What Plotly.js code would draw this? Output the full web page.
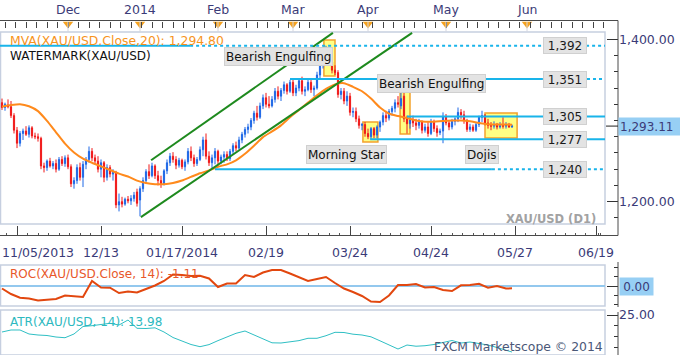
<!DOCTYPE html>
<html><head><meta charset="utf-8">
<script src="https://cdn.plot.ly/plotly-3.0.1.min.js"></script>
<style>html,body{margin:0;padding:0;background:#fff}#chart{width:680px;height:355px}</style>
</head><body><div id="chart"></div>
<script>
// ---------- data ----------
const opens=[1322,1316,1319,1317,1306,1288,1272,1284,1287,1283,1291,1281,1280,1278,1244,1242,1250,1244,1247,1240,1252,1247,1254,1243,1222,1226,1242,1230,1246,1252,1262,1254,1250,1240,1248,1230,1242,1234,1236,1196,1200,1197,1203,1201,1204,1212,1202,1216,1226,1237,1232,1244,1232,1226,1222,1238,1248,1256,1252,1245,1251,1243,1249,1262,1254,1247,1252,1264,1276,1256,1248,1254,1262,1250,1255,1258,1253,1262,1269,1266,1276,1283,1289,1292,1300,1309,1304,1318,1328,1320,1318,1326,1336,1330,1337,1344,1336,1347,1334,1340,1349,1336,1338,1347,1338,1340,1356,1370,1374,1380,1372,1362,1359,1332,1336,1324,1330,1310,1311,1302,1294,1295,1284,1280,1290,1282,1292,1298,1306,1303,1311,1315,1322,1318,1330,1302,1296,1301,1297,1294,1299,1288,1292,1284,1298,1290,1285,1287,1305,1297,1292,1299,1302,1310,1307,1300,1289,1292,1288,1295,1304,1306,1297,1294,1293,1295,1292,1294,1293,1295,1292];
const highs=[1327,1322,1326,1324,1309,1292,1287,1290,1293,1294,1293,1285,1284,1280,1248,1252,1254,1250,1252,1255,1256,1257,1258,1246,1230,1246,1248,1250,1255,1268,1266,1258,1256,1252,1250,1246,1245,1240,1238,1210,1206,1205,1207,1208,1212,1216,1219,1230,1240,1246,1248,1246,1238,1232,1240,1252,1260,1261,1256,1254,1253,1252,1266,1268,1258,1255,1268,1280,1284,1262,1258,1266,1264,1258,1262,1262,1265,1272,1274,1280,1286,1292,1296,1303,1312,1318,1322,1332,1334,1330,1330,1340,1342,1340,1348,1346,1350,1352,1344,1352,1354,1342,1350,1350,1343,1360,1374,1378,1392,1390,1380,1368,1362,1340,1340,1336,1334,1316,1316,1306,1297,1298,1290,1292,1292,1294,1300,1310,1312,1314,1318,1326,1330,1336,1334,1306,1304,1306,1302,1302,1300,1296,1298,1302,1301,1294,1290,1310,1308,1300,1302,1304,1316,1314,1312,1302,1296,1295,1298,1306,1312,1308,1302,1298,1299,1297,1298,1304,1298,1297,1295];
const lows=[1313,1312,1315,1303,1284,1266,1268,1276,1281,1279,1278,1277,1274,1240,1236,1238,1242,1240,1236,1238,1244,1243,1240,1218,1216,1222,1226,1218,1240,1248,1250,1246,1236,1230,1224,1226,1230,1226,1192,1188,1193,1195,1198,1196,1200,1194,1182,1212,1222,1228,1230,1228,1220,1217,1220,1234,1244,1248,1240,1242,1240,1238,1246,1250,1243,1244,1250,1256,1252,1244,1240,1246,1244,1246,1248,1250,1250,1258,1262,1264,1272,1279,1284,1288,1296,1300,1302,1314,1316,1315,1316,1322,1326,1324,1333,1332,1334,1330,1330,1336,1332,1330,1336,1334,1330,1338,1352,1364,1370,1368,1358,1356,1328,1326,1320,1318,1306,1304,1298,1290,1288,1280,1277,1277,1278,1278,1286,1294,1298,1300,1306,1310,1316,1314,1298,1284,1290,1292,1288,1290,1284,1285,1280,1282,1286,1280,1282,1272,1294,1288,1289,1294,1298,1302,1296,1286,1286,1286,1286,1292,1298,1294,1290,1288,1290,1289,1290,1290,1290,1291,1291];
const closes=[1316,1320,1317,1306,1288,1272,1284,1287,1283,1291,1281,1280,1278,1244,1242,1250,1244,1247,1240,1252,1247,1254,1243,1222,1226,1242,1230,1246,1252,1262,1254,1250,1240,1248,1230,1242,1234,1236,1196,1200,1197,1203,1201,1204,1208,1198,1216,1226,1237,1232,1244,1232,1226,1222,1238,1248,1256,1252,1245,1251,1243,1249,1262,1254,1247,1252,1264,1276,1256,1248,1254,1262,1250,1255,1258,1253,1262,1269,1266,1276,1283,1289,1292,1300,1309,1304,1318,1328,1320,1318,1326,1336,1330,1337,1344,1336,1347,1334,1340,1349,1336,1338,1347,1338,1340,1356,1370,1374,1380,1372,1362,1359,1332,1336,1324,1330,1310,1311,1302,1294,1295,1284,1280,1290,1282,1292,1298,1306,1303,1311,1315,1322,1320,1327,1302,1296,1301,1297,1294,1299,1288,1292,1284,1298,1290,1285,1287,1305,1297,1292,1299,1302,1310,1307,1300,1289,1292,1288,1295,1304,1306,1297,1294,1293,1295,1292,1294,1293,1295,1292,1293.11];
// MVA(20), ROC(14), ATR(14) read every 3rd bar (+ last bar)
const maVals=[1317,1319,1320,1317.5,1311.5,1299.5,1285.5,1271.5,1260.5,1253,1248,1243.5,1239,1234.5,1231,1226,1223,1221.5,1221.5,1223,1226,1230.5,1235,1238.5,1243,1246,1251,1259,1269,1279.5,1286.5,1294,1304,1313,1322,1331,1339,1344.5,1346,1341.5,1336,1327,1316,1308.5,1305.5,1303,1300,1298.5,1298.5,1299.5,1300,1300,1299,1297,1295.5,1295,1295,1294.8];
const rocVals=[-1.19,-3.81,-5.57,-5.95,-6.9,-6.67,-6.19,-4.52,-4.76,-5.24,2.38,-0.71,-0.81,-3.33,-2.62,-3.1,-1.43,0.24,2.38,5.48,5.24,4.76,4.9,3.57,-0.48,1.19,1.19,5.24,4.29,6.43,7.62,7.62,5.95,4.29,2.38,3.33,4.29,1.43,-1.19,-2.86,-4.76,-7.38,-7.62,-4.52,0.48,0.48,0.95,-0.71,-0.48,-1.9,-2.38,0.33,0.48,1.05,-0.81,0,-1.19,-1.11];
const atrVals=[19.94,20.54,20.54,19.35,19.05,18.9,18.45,18.24,19.35,21.58,21.82,22.08,22.53,22.02,23.51,21.04,20.98,21.19,19.94,18.3,17.32,16.22,15.57,16.19,17.38,18.54,19.55,20.24,19.05,18.07,16.73,16.67,17.02,17.38,18.07,18.07,18.84,19.85,19.79,19.29,19.05,18.51,17.32,16.07,14.88,16.07,15.71,15.86,16.22,16.82,17.41,16.67,16.96,16.52,16.07,15.33,14.43,13.98];
const levels=[1392,1351,1305,1277,1240];
const chanUpX=[49.7,110.3], chanUpY=[1251,1408];
const chanLoX=[46.3,136.7], chanLoY=[1181,1408];
const patNames=['Bearish Engulfing','Morning Star','Bearish Engulfing','Dojis'];
const patX0=[107.3,120.3,132.7,161], patX1=[111,125.3,136,171.7];
const patLo=[1354.8,1273.5,1283.4,1278.4], patHi=[1399.1,1298.2,1336.3,1309.2];
const monthNames=['Dec','2014','Feb','Mar','Apr','May','Jun'];
const monthIdx=[22,46,72,97,122,148,175];
const dateLabels=['11/05/2013','12/13','01/17/2014','02/19','03/24','04/24','05/27','06/19'];
const dateTickIdx=[5,33,60,88,116,143,171,198];

// ---------- helpers ----------
const W=680,H=355;
const px=x=>x/W, py=y=>1-y/H;
const navy='#3B3B78';
const xRange=[-2/3,201];
const barX=closes.map((_,i)=>i);
const sIdx=[]; for(let k=0;k<57;k++) sIdx.push(3*k); sIdx.push(closes.length-1);
const f2=v=>v.toLocaleString('en-US',{minimumFractionDigits:2,maximumFractionDigits:2});

// minor ticks for rulers
const minorBottom=[];
for(let j=0;j<dateTickIdx.length-1;j++){const a=dateTickIdx[j],b=dateTickIdx[j+1];for(let s=1;s<8;s++)minorBottom.push(a+(b-a)*s/8);}
for(let s=1;s<3;s++){minorBottom.push(dateTickIdx[0]-3.5*s);minorBottom.push(dateTickIdx[dateTickIdx.length-1]+0.7*s);}

const blue='#1E68E6', red='#F01818', cyan='#19B4EA';
const traces=[
 {type:'candlestick',x:barX,open:opens,high:highs,low:lows,close:closes,xaxis:'x',yaxis:'y',
  increasing:{line:{color:blue,width:1},fillcolor:blue},decreasing:{line:{color:red,width:1},fillcolor:red},
  whiskerwidth:0,hoverinfo:'skip'},
 {type:'scatter',mode:'lines',x:sIdx,y:maVals,xaxis:'x',yaxis:'y',line:{color:'#FF8A1C',width:2,shape:'spline',smoothing:0.6},hoverinfo:'skip'},
 {type:'scatter',mode:'lines',x:chanUpX,y:chanUpY,xaxis:'x',yaxis:'y',line:{color:'#1E8A1E',width:2},hoverinfo:'skip'},
 {type:'scatter',mode:'lines',x:chanLoX,y:chanLoY,xaxis:'x',yaxis:'y',line:{color:'#1E8A1E',width:2},hoverinfo:'skip'},
 {type:'scatter',mode:'lines',x:sIdx,y:rocVals,xaxis:'x',yaxis:'y2',line:{color:'#E2470F',width:2},hoverinfo:'skip'},
 {type:'scatter',mode:'lines',x:sIdx,y:atrVals,xaxis:'x',yaxis:'y3',line:{color:'#2FBFC4',width:1},hoverinfo:'skip'},
 {type:'scatter',mode:'markers',x:monthIdx,y:monthIdx.map(()=>0.25),xaxis:'x2',yaxis:'y4',
  marker:{symbol:'triangle-down',size:9,color:'#F5A21F'},hoverinfo:'skip'}
];

const shapes=[];
const line=(x0,y0,x1,y1,color,width,dash)=>({type:'line',xref:'paper',yref:'paper',x0:px(x0),y0:py(y0),x1:px(x1),y1:py(y1),line:{color,width,dash:dash||'solid'}});
// panel frames
[[32,224],[265,306],[310,355]].forEach(([t,b])=>shapes.push({type:'rect',xref:'paper',yref:'paper',x0:px(0.5),x1:px(605),y0:py(b),y1:py(t),line:{color:'#C6CFE0',width:1.5},layer:'below'}));
// rulers / axis lines
shapes.push(line(0,20.5,618,20.5,'#4a4a4a',1));
shapes.push(line(618,20.5,618,235.5,'#4a4a4a',1));
shapes.push(line(0,235.5,618,235.5,'#4a4a4a',1));
shapes.push(line(618,262,618,307,'#4a4a4a',1));
shapes.push(line(618,312,618,355,'#4a4a4a',1));
monthIdx.forEach(m=>shapes.push({type:'line',xref:'x',yref:'paper',x0:m,x1:m,y0:py(32),y1:py(22),line:{color:'#D4D6E0',width:1}}));
// pattern boxes
patX0.forEach((x0,i)=>shapes.push({type:'rect',xref:'x',yref:'y',x0,x1:patX1[i],y0:patLo[i],y1:patHi[i],
  fillcolor:'rgba(255,255,110,0.85)',line:{color:'#F3A22C',width:1.5},layer:'below'}));
// support / resistance lines
const segs=[
 [[xRange[0],62.7,'solid'],[62.7,xRange[1],'dot']],
 [[96,180.3,'solid'],[195,xRange[1],'dot']],
 [[135,xRange[1],'solid']],
 [[122.7,xRange[1],'solid']],
 [[71,163.3,'solid'],[163.3,xRange[1],'dot']]
];
levels.forEach((lv,i)=>segs[i].forEach(([a,b,d])=>shapes.push({type:'line',xref:'x',yref:'y',x0:a,x1:b,y0:lv,y1:lv,line:{color:cyan,width:2,dash:d}})));
// current price tick
const last=closes[closes.length-1];
shapes.push({type:'line',xref:'paper',yref:'y',x0:px(606),x1:px(618),y0:last,y1:last,line:{color:'#222',width:1}});

const ann=[];
const txt=(x,y,text,o)=>Object.assign({xref:'paper',yref:'paper',x:px(x),y:py(y),text,showarrow:false,xanchor:'left',yanchor:'middle',font:{family:'DejaVu Sans',size:12,color:'#111'}},o||{});
ann.push(txt(8,41,'MVA(XAU/USD.Close,20): '+f2(maVals[maVals.length-1]),{font:{family:'DejaVu Sans',size:12.4,color:'#F7941D'}}));
ann.push(txt(8,56,'WATERMARK(XAU/USD)'));
ann.push(txt(8,274,'ROC(XAU/USD.Close, 14): '+f2(rocVals[rocVals.length-1]),{font:{family:'DejaVu Sans',size:12,color:'#E8582A'}}));
ann.push(txt(8,322,'ATR(XAU/USD, 14): '+f2(atrVals[atrVals.length-1]),{font:{family:'DejaVu Sans',size:12,color:'#2DB9C0'}}));
ann.push(txt(598,219,'<b>XAU/USD (D1)</b>',{xanchor:'right',font:{family:'DejaVu Sans',size:11.5,color:'#A2A2A2'}}));
ann.push(txt(605,346,'FXCM Marketscope © 2014',{xanchor:'right',font:{family:'DejaVu Sans',size:12.4,color:'#4B5878'}}));
// level labels
levels.forEach(lv=>ann.push({xref:'paper',yref:'y',x:px(565),y:lv,text:lv.toLocaleString('en-US'),showarrow:false,
  xanchor:'center',yanchor:'middle',width:42,height:15,bgcolor:'#E3E3E3',bordercolor:'#D0D0D0',borderwidth:1,borderpad:0,
  font:{family:'DejaVu Sans',size:12,color:'#1a1a1a'}}));
// pattern labels
const patLab=[[278,56],[346,154],[431,83],[482,154]];
patNames.forEach((n,i)=>ann.push(txt(patLab[i][0],patLab[i][1],n,{xanchor:'center',bgcolor:'#E3E3E3',bordercolor:'#D0D0D0',borderwidth:1,borderpad:1,height:15})));
// current price & roc zero boxes
ann.push({xref:'paper',yref:'y',x:px(617.5),y:last,text:f2(last),showarrow:false,xanchor:'left',yanchor:'middle',align:'left',width:60,height:15,borderpad:1,
  bgcolor:'#97CFF4',font:{family:'DejaVu Sans',size:12,color:navy}});
ann.push({xref:'paper',yref:'y2',x:px(618.5),y:0,text:'0.00',showarrow:false,xanchor:'left',yanchor:'middle',width:31,height:15,borderpad:1,
  bgcolor:'#97CFF4',font:{family:'DejaVu Sans',size:12,color:navy}});
// month labels (top) and date labels (bottom)
monthIdx.forEach((m,i)=>ann.push({xref:'x',yref:'paper',x:m,y:py(10),text:monthNames[i],showarrow:false,xanchor:'center',yanchor:'middle',font:{family:'DejaVu Sans',size:12.5,color:navy}}));
dateTickIdx.forEach((d,i)=>ann.push({xref:'x',yref:'paper',x:i===0?xRange[0]:d,y:py(252),text:dateLabels[i],showarrow:false,xanchor:i===0?'left':'center',yanchor:'middle',font:{family:'DejaVu Sans',size:12.5,color:navy}}));

const rAxis={side:'right',anchor:'free',position:px(618),showgrid:false,zeroline:false,showline:false,ticks:'inside',ticklen:11,tickcolor:'#333',tickwidth:1,tickmode:'array',
  tickfont:{family:'DejaVu Sans',size:12.5,color:navy}};
const layout={
 width:W,height:H,margin:{l:0,r:0,t:0,b:0},paper_bgcolor:'#fff',plot_bgcolor:'#fff',showlegend:false,
 font:{family:'DejaVu Sans',size:12,color:navy},boxgap:0.45,
 xaxis:{domain:[0,px(605)],range:xRange,anchor:'free',position:py(235.5),showgrid:false,zeroline:false,showline:false,showticklabels:false,
   ticks:'inside',ticklen:10,tickcolor:'#444',tickwidth:1,tickmode:'array',tickvals:dateTickIdx,
   minor:{ticks:'inside',ticklen:3,tickcolor:'#555',tickwidth:1,tickmode:'array',tickvals:minorBottom},rangeslider:{visible:false}},
 xaxis2:{overlaying:'x',range:xRange,side:'top',anchor:'free',position:py(20.5),showgrid:false,zeroline:false,showline:false,showticklabels:false,
   ticks:'inside',ticklen:6,tickcolor:'#444',tickwidth:1,tickmode:'linear',tick0:monthIdx[0],dtick:3.5},
 yaxis:Object.assign({},rAxis,{domain:[py(224),py(32)],range:[1172.5,1409],tickvals:[1200,1400],tickformat:',.2f',
   minor:{ticks:'inside',ticklen:4,tickcolor:'#333',dtick:20,tick0:1200}}),
 yaxis2:Object.assign({},rAxis,{domain:[py(306),py(265)],range:[-9.52,10],tickvals:[0],showticklabels:false,
   zeroline:true,zerolinecolor:'#93C8EE',zerolinewidth:2,minor:{ticks:'inside',ticklen:4,tickcolor:'#333',dtick:4.38,tick0:0}}),
 yaxis3:Object.assign({},rAxis,{domain:[0,py(311)],range:[13.1,26.19],tickvals:[25],tickformat:'.2f',
   minor:{ticks:'inside',ticklen:4,tickcolor:'#333',dtick:3.2,tick0:25}}),
 yaxis4:{domain:[py(32),1],range:[0,1],visible:false,anchor:'x2'},
 shapes,annotations:ann
};
Plotly.newPlot('chart',traces,layout,{staticPlot:true,displayModeBar:false});
</script></body></html>
